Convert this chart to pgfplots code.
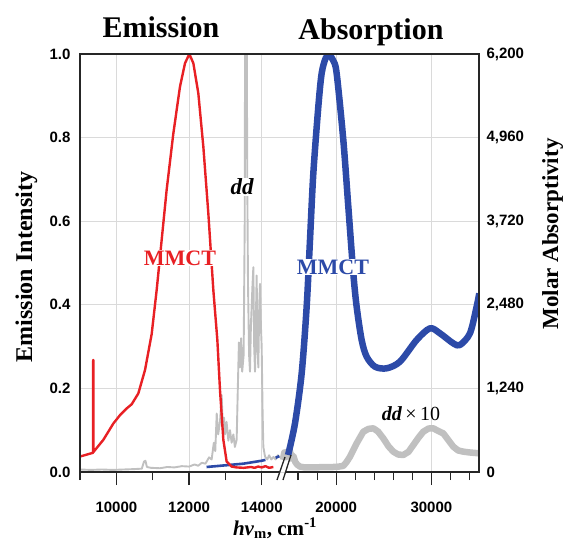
\documentclass[border=0pt]{standalone}
\usepackage{fontspec}
\setmainfont{Liberation Serif}
\setsansfont{Liberation Sans}
\usepackage{pgfplots}
\pgfplotsset{compat=1.18}

\definecolor{myred}{RGB}{232,32,36}
\definecolor{myblue}{RGB}{44,74,168}
\definecolor{mygray}{RGB}{192,192,192}
\definecolor{gridgray}{RGB}{218,218,218}

\pgfplotsset{
  common/.style={
    scale only axis, height=418pt,
    axis line style={draw=none},
    grid=major, major grid style={gridgray, line width=0.9pt},
    tick align=outside,
    major tick length=13pt, minor tick length=8pt,
    tick style={black!85, line width=1.2pt},
    scaled ticks=false,
    ticklabel style={font=\fontsize{15}{15}\selectfont\sffamily\bfseries},
    xticklabel style={yshift=-13pt},
    ytick style={draw=none},
    xtick pos=bottom,
    clip=true,
  }
}

\begin{document}
\begin{tikzpicture}
\path[use as bounding box] (0,0) rectangle (565pt,550pt);

% ---------------- left (emission) segment ----------------
\begin{axis}[common, at={(80pt,78pt)}, anchor=south west, width=200pt,
  xmin=9000, xmax=14500, ymin=0, ymax=1,
  xtick={10000,12000,14000}, xticklabels={10000,12000,14000},
  minor xtick={9000,11000,13000},
  ytick={0,0.2,0.4,0.6,0.8,1}, yticklabels={0.0,0.2,0.4,0.6,0.8,1.0},
  yticklabel style={xshift=7pt},
  ytick pos=left]
% dd (grey) absorption
\addplot[mygray, line width=1.9pt, line join=round] coordinates {
(9000,0.006)(9300,0.005)(9600,0.006)(9900,0.005)(10200,0.006)(10500,0.007)(10700,0.008)
(10760,0.025)(10800,0.027)(10840,0.012)(10950,0.010)(11200,0.009)(11400,0.012)(11600,0.011)
(11800,0.014)(12000,0.013)(12150,0.018)(12250,0.015)(12350,0.022)(12450,0.020)(12550,0.035)
(12620,0.030)(12680,0.070)(12720,0.050)(12760,0.140)(12800,0.090)(12850,0.120)(12896,0.184)
(12930,0.100)(12960,0.130)(12990,0.090)(13030,0.120)(13080,0.075)(13125,0.100)(13170,0.070)
(13217,0.090)(13260,0.060)(13308,0.077)(13340,0.200)(13370,0.310)(13400,0.250)(13430,0.320)
(13460,0.240)(13500,0.280)(13530,0.600)(13545,1.300)(13575,1.300)(13600,0.700)(13620,0.450)
(13650,0.280)(13675,0.240)(13700,0.350)(13740,0.440)(13767,0.490)(13790,0.300)(13813,0.240)
(13840,0.380)(13858,0.470)(13880,0.300)(13904,0.250)(13930,0.400)(13950,0.450)(13975,0.350)
(13996,0.300)(14020,0.150)(14042,0.060)(14088,0.037)(14150,0.030)(14200,0.040)(14260,0.030)
(14320,0.036)(14380,0.030)(14440,0.040)(14500,0.035)};
% MMCT absorption tail (blue)
\addplot[myblue, line width=2.6pt] coordinates {
(12480,0.012)(13000,0.016)(13500,0.020)(14000,0.027)(14100,0.029)};
\addplot[myblue, line width=2.6pt] coordinates {(14380,0.034)(14480,0.038)};
% MMCT emission (red)
\addplot[myred, line width=2.4pt, line join=round] coordinates {
(9000,0.037)(9321,0.045)(9360,0.046)(9363,0.268)(9368,0.268)(9371,0.048)
(9642,0.077)(9917,0.116)(10100,0.136)(10283,0.152)(10421,0.162)(10604,0.188)
(10788,0.244)(10971,0.330)(11108,0.435)(11200,0.515)(11383,0.675)(11567,0.810)
(11750,0.922)(11888,0.978)(12007,1.000)(12117,0.978)(12254,0.906)(12392,0.778)
(12529,0.619)(12667,0.435)(12777,0.316)(12850,0.196)(12942,0.077)(13033,0.025)
(13171,0.013)(13300,0.011)(13500,0.010)(13700,0.012)(13800,0.010)(13900,0.013)
(14000,0.011)(14100,0.014)(14200,0.010)(14317,0.012)};
\end{axis}

% ---------------- right (absorption) segment ----------------
\begin{axis}[common, at={(280pt,78pt)}, anchor=south west, width=199pt,
  xmin=14100, xmax=35000, ymin=0, ymax=6200,
  xtick={20000,30000}, xticklabels={20000,30000},
  minor xtick={16000,18000,22000,24000,26000,28000,32000,34000},
  ytick={0,1240,2480,3720,4960,6200},
  yticklabels={0,{1,240},{2,480},{3,720},{4,960},{6,200}},
  yticklabel style={xshift=-9pt},
  ytick pos=right]
% dd x 10 (grey)
\addplot[mygray, line width=6.5pt, line join=round] coordinates {
(14400,180)(14550,290)(14700,220)(14850,300)(15000,250)(15150,310)(15300,200)
(15500,240)(15700,150)(15900,110)(16200,80)(16600,70)(18000,70)(20000,75)
(20750,90)(21100,150)(21450,227)(22150,425)(22850,598)(23400,640)(23900,648)
(24400,600)(24950,499)(25500,380)(26000,302)(26500,260)(27050,252)(27600,300)
(28100,400)(28650,510)(29150,598)(29700,645)(30200,648)(30700,610)(31250,573)
(31800,470)(32300,376)(32800,320)(33350,302)(34000,290)(35000,277)};
% MMCT absorption (blue)
\addplot[myblue, line width=6.5pt, line join=round, smooth] coordinates {
(14950,252)(15675,722)(16375,1463)(16900,2452)(17250,3441)(17600,4430)
(18125,5419)(18475,5913)(18900,6140)(19280,6185)(19700,6100)(20050,5913)
(20750,4924)(21275,3935)(21800,2947)(22150,2452)(22675,1958)(23200,1711)
(24075,1562)(25300,1538)(26700,1637)(28450,1958)(29850,2131)(30900,2057)
(32300,1908)(33000,1884)(34050,2057)(34750,2452)(35030,2650)};
\end{axis}

% frame
\draw[line width=1.4pt, black!85]
  (279.5pt,78pt) -- (80pt,78pt) -- (80pt,496pt) -- (479pt,496pt) -- (479pt,78pt) -- (286pt,78pt);
% axis break marks
\draw[line width=1.3pt, black!85] (277pt,70pt) -- (285pt,93pt);
\draw[line width=1.3pt, black!85] (283pt,70pt) -- (291pt,95pt);

% titles
\node[font=\fontsize{30}{30}\selectfont\bfseries, anchor=base] at (161pt,512pt) {Emission};
\node[font=\fontsize{30}{30}\selectfont\bfseries, anchor=base] at (371pt,510pt) {Absorption};

% axis labels
\node[font=\fontsize{24}{24}\selectfont\bfseries, rotate=90, anchor=base] at (32pt,283pt) {Emission Intensity};
\node[font=\fontsize{23}{23}\selectfont\bfseries, rotate=90, anchor=base] at (558pt,316pt) {Molar Absorptivity};
\node[font=\fontsize{21}{21}\selectfont\bfseries, anchor=base] at (275pt,15pt)
  {\textit{hv}\textsubscript{m}, cm\textsuperscript{-1}};

% in-plot labels
\node[font=\fontsize{22}{22}\selectfont\bfseries, text=myred, fill=white, inner sep=1pt] at (180pt,292pt) {MMCT};
\node[font=\fontsize{22}{22}\selectfont\bfseries, text=myblue, fill=white, inner sep=1pt] at (333pt,283pt) {MMCT};
\node[font=\fontsize{23}{23}\selectfont\bfseries\itshape, fill=white, inner sep=1pt] at (242pt,363pt) {dd};
\node[font=\fontsize{20}{20}\selectfont, inner sep=1pt] at (411pt,136pt) {\textbf{\textit{dd}}\,×\,10};
\end{tikzpicture}
\end{document}
